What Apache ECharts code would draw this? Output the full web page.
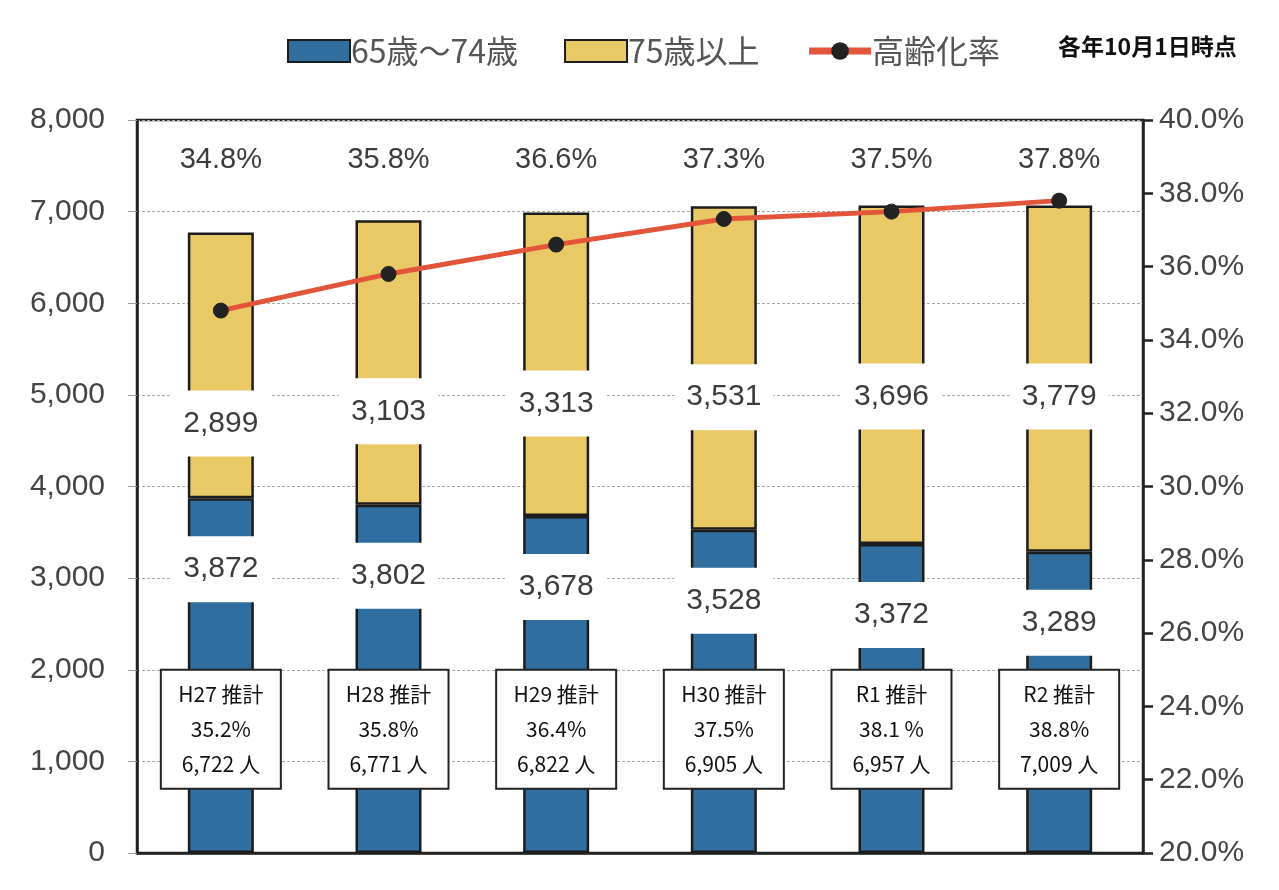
<!DOCTYPE html>
<html>
<head>
<meta charset="utf-8">
<script src="https://cdn.jsdelivr.net/npm/echarts@6/dist/echarts.min.js"></script>
<style>html,body{margin:0;padding:0;background:#fff;}#chart{width:1279px;height:890px;}</style>
</head>
<body>
<div id="chart"></div>
<script>
const categories = ['H27', 'H28', 'H29', 'H30', 'R1', 'R2'];
const age65to74 = [3872, 3802, 3678, 3528, 3372, 3289];
const age75plus = [2899, 3103, 3313, 3531, 3696, 3779];
const agingRate = [34.8, 35.8, 36.6, 37.3, 37.5, 37.8];
const estTitles = ['H27 推計', 'H28 推計', 'H29 推計', 'H30 推計', 'R1 推計', 'R2 推計'];
const estRates = ['35.2%', '35.8%', '36.4%', '37.5%', '38.1 %', '38.8%'];
const estPeople = ['6,722 人', '6,771 人', '6,822 人', '6,905 人', '6,957 人', '7,009 人'];
const leftTicks = { min: 0, max: 8000, interval: 1000 };
const rightTicks = { min: 20, max: 40, interval: 2 };

const NUM_FONT = "'Liberation Sans Narrow','Arial Narrow','Liberation Sans',sans-serif";
const JP_FONT = "'Noto Sans CJK JP','Noto Sans',sans-serif";
const rateLabelLevel = 38.9;
const estBoxLevel = 1350;

const chart = echarts.init(document.getElementById('chart'));
const fmtComma = v => v.toLocaleString('en-US');

const valLabel = {
  show: true,
  formatter: p => fmtComma(p.value),
  fontFamily: NUM_FONT,
  fontSize: 30,
  color: '#3c3c3c',
  backgroundColor: '#fff',
  padding: [17, 12],
  lineHeight: 32
};

chart.setOption({
  animation: false,
  backgroundColor: '#fff',
  grid: { left: 137, right: 136, top: 120, bottom: 37, show: true, borderColor: '#222', borderWidth: 2.5, backgroundColor: 'transparent' },
  legend: {
    data: [
      { name: '65歳～74歳', icon: 'rect' },
      { name: '75歳以上', icon: 'rect' },
      { name: '高齢化率', lineStyle: { width: 7, color: '#e2553a' } }
    ],
    left: 282, top: 30,
    itemWidth: 62, itemHeight: 22, itemGap: 46,
    textStyle: { fontFamily: JP_FONT, fontSize: 32, color: '#555', padding: [0, 0, 0, -4] }
  },
  graphic: [{
    type: 'text', left: 1058, top: 35,
    style: { text: '各年10月1日時点', font: "bold 23px 'Noto Sans CJK JP'", fill: '#111' }
  }],
  xAxis: {
    type: 'category', data: categories,
    axisLine: { lineStyle: { color: '#222', width: 2.5 } },
    axisTick: { show: false }, axisLabel: { show: false }
  },
  yAxis: [{
    type: 'value', min: leftTicks.min, max: leftTicks.max, interval: leftTicks.interval,
    axisLine: { show: true, lineStyle: { color: '#222', width: 2.5 } },
    axisTick: { show: true, length: 9, lineStyle: { color: '#999' } },
    splitLine: { lineStyle: { color: '#aaa', type: [3, 2], width: 1 } },
    axisLabel: { formatter: fmtComma, fontFamily: NUM_FONT, fontSize: 30, color: '#444', margin: 32 }
  }, {
    type: 'value', min: rightTicks.min, max: rightTicks.max, interval: rightTicks.interval,
    position: 'right',
    axisLine: { show: true, lineStyle: { color: '#222', width: 2.5 } },
    axisTick: { show: true, length: 10, lineStyle: { color: '#222', width: 2.5 } },
    splitLine: { show: false },
    axisLabel: { formatter: v => v.toFixed(1) + '%', fontFamily: NUM_FONT, fontSize: 30, color: '#444', margin: 16 }
  }],
  series: [{
    name: '65歳～74歳', type: 'bar', stack: 'pop', barWidth: 66, data: age65to74,
    itemStyle: { color: '#2f6e9f', borderColor: '#1c1c1c', borderWidth: 2.5 },
    label: Object.assign({}, valLabel, { position: 'insideTop', distance: 38 })
  }, {
    name: '75歳以上', type: 'bar', stack: 'pop', barWidth: 66, data: age75plus,
    itemStyle: { color: '#e9c965', borderColor: '#1c1c1c', borderWidth: 2.5 },
    label: Object.assign({}, valLabel, { position: 'insideTop', distance: 158 })
  }, {
    name: '高齢化率', type: 'line', yAxisIndex: 1, data: agingRate,
    symbol: 'circle', symbolSize: 15,
    lineStyle: { color: '#e2553a', width: 5 },
    itemStyle: { color: '#222', borderColor: '#222' },
    z: 5
  }, {
    name: 'rateLabels', type: 'scatter', yAxisIndex: 1, symbolSize: 0,
    data: categories.map(c => [c, rateLabelLevel]),
    itemStyle: { opacity: 1 },
    label: {
      show: true, position: 'inside',
      formatter: p => agingRate[p.dataIndex].toFixed(1) + '%',
      fontFamily: NUM_FONT, fontSize: 29, color: '#3c3c3c'
    },
    silent: true
  }, {
    name: 'estBoxes', type: 'scatter', symbolSize: 0,
    data: categories.map(c => [c, estBoxLevel]),
    itemStyle: { opacity: 1 },
    label: {
      show: true, position: 'inside',
      formatter: p => estTitles[p.dataIndex] + '\n' + estRates[p.dataIndex] + '\n' + estPeople[p.dataIndex],
      fontFamily: JP_FONT, fontSize: 21, color: '#111', lineHeight: 35,
      backgroundColor: '#fff', borderColor: '#222', borderWidth: 2,
      padding: [6, 10], width: 98, align: 'center'
    },
    silent: true, z: 10
  }]
});
</script>
</body>
</html>
